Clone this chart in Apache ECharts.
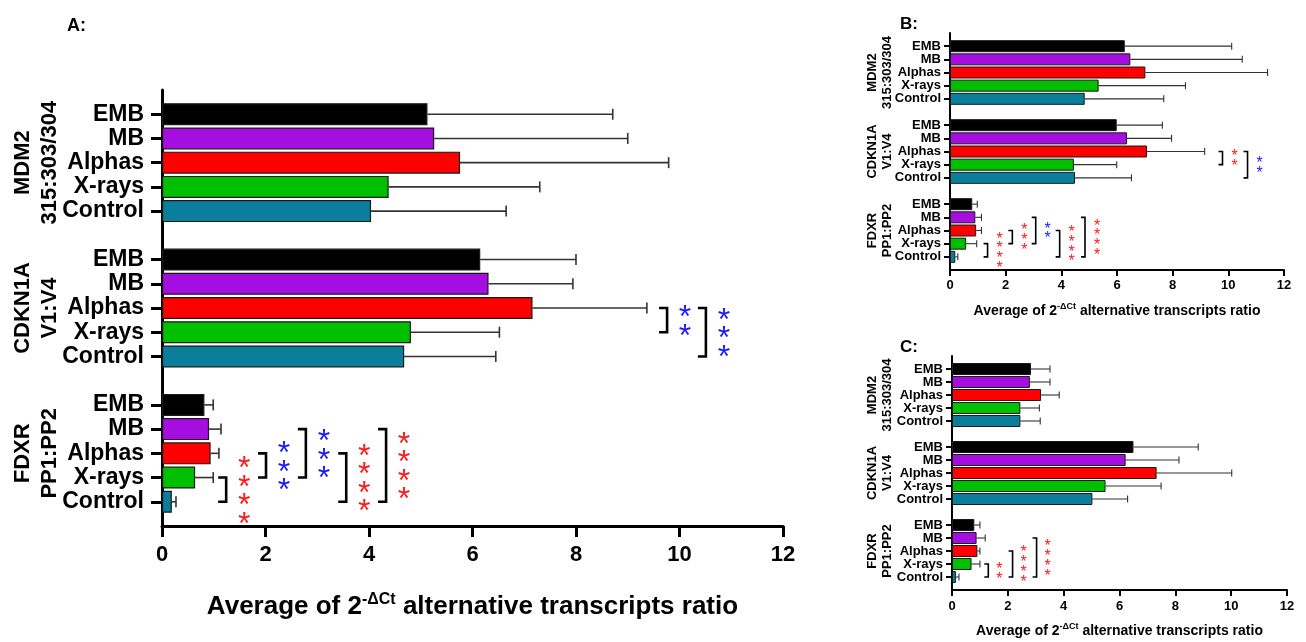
<!DOCTYPE html>
<html>
<head>
<meta charset="utf-8">
<script src="https://cdn.jsdelivr.net/npm/echarts@6/dist/echarts.min.js"></script>
<style>
html, body { margin: 0; padding: 0; background: #fff; }
#chart { width: 1306px; height: 642px; }
</style>
</head>
<body>
<div id="chart"></div>
<script>
var treatments = ['EMB', 'MB', 'Alphas', 'X-rays', 'Control'];
var genes = ['MDM2', 'CDKN1A', 'FDXR'];
var geneNames = ['MDM2\n315:303/304', 'CDKN1A\nV1:V4', 'FDXR\nPP1:PP2'];
var xTicks = [0, 2, 4, 6, 8, 10, 12];
var xTitle = '{n|Average of 2}{s|-ΔCt}{n| alternative transcripts ratio}';

// panel A : mean and SD per treatment
var meanA_MDM2 = [5.13, 5.26, 5.76, 4.38, 4.04];
var sdA_MDM2 = [3.58, 3.74, 4.03, 2.92, 2.61];
var meanA_CDKN1A = [6.15, 6.31, 7.16, 4.81, 4.68];
var sdA_CDKN1A = [1.85, 1.63, 2.21, 1.71, 1.77];
var meanA_FDXR = [0.82, 0.91, 0.94, 0.64, 0.19];
var sdA_FDXR = [0.17, 0.23, 0.16, 0.35, 0.08];

// panel B
var meanB_MDM2 = [6.28, 6.48, 7.02, 5.34, 4.84];
var sdB_MDM2 = [3.84, 4.02, 4.39, 3.12, 2.84];
var meanB_CDKN1A = [5.99, 6.36, 7.08, 4.45, 4.49];
var sdB_CDKN1A = [1.64, 1.60, 2.07, 1.54, 2.03];
var meanB_FDXR = [0.80, 0.91, 0.94, 0.58, 0.19];
var sdB_FDXR = [0.18, 0.22, 0.19, 0.38, 0.09];

// panel C
var meanC_MDM2 = [2.83, 2.79, 3.19, 2.45, 2.45];
var sdC_MDM2 = [0.68, 0.72, 0.65, 0.68, 0.71];
var meanC_CDKN1A = [6.50, 6.22, 7.33, 5.50, 5.03];
var sdC_CDKN1A = [2.32, 1.91, 2.69, 1.99, 1.26];
var meanC_FDXR = [0.80, 0.88, 0.91, 0.70, 0.14];
var sdC_FDXR = [0.20, 0.31, 0.09, 0.30, 0.11];

// significance brackets: gene, from, to, bracket x, number of stars, colour
var sigA = [
  ['CDKN1A', 'Alphas', 'X-rays', 9.76, 2, 'blue'],
  ['CDKN1A', 'Alphas', 'Control', 10.51, 3, 'blue'],
  ['FDXR', 'X-rays', 'Control', 1.24, 4, 'red'],
  ['FDXR', 'Alphas', 'X-rays', 2.01, 3, 'blue'],
  ['FDXR', 'MB', 'X-rays', 2.78, 3, 'blue'],
  ['FDXR', 'Alphas', 'Control', 3.56, 4, 'red'],
  ['FDXR', 'MB', 'Control', 4.33, 4, 'red']
];
var sigB = [
  ['CDKN1A', 'Alphas', 'X-rays', 9.79, 2, 'red'],
  ['CDKN1A', 'Alphas', 'Control', 10.69, 2, 'blue'],
  ['FDXR', 'X-rays', 'Control', 1.35, 4, 'red'],
  ['FDXR', 'Alphas', 'X-rays', 2.24, 3, 'red'],
  ['FDXR', 'MB', 'X-rays', 3.08, 2, 'blue'],
  ['FDXR', 'Alphas', 'Control', 3.94, 4, 'red'],
  ['FDXR', 'MB', 'Control', 4.85, 4, 'red']
];
var sigC = [
  ['FDXR', 'X-rays', 'Control', 1.30, 2, 'red'],
  ['FDXR', 'Alphas', 'Control', 2.17, 4, 'red'],
  ['FDXR', 'MB', 'Control', 3.03, 4, 'red']
];

var barColors = ['#000000', '#a40ee0', '#ff0000', '#00c000', '#0a7e9a'];
var starColors = { red: '#ff1a1a', blue: '#1a1aff' };
var FONT = '"Liberation Sans", Arial, sans-serif';

// category slots: empty slot at top, between groups and at bottom
var cats = ['top'];
genes.forEach(function (g, gi) {
  treatments.forEach(function (t) { cats.push(g + '|' + t); });
  cats.push(gi < genes.length - 1 ? 'gap' + gi : 'bottom');
});
function catIndex(gene, treat) {
  return cats.indexOf(gene + '|' + treat);
}

var panels = [
  { name: 'A:', means: [meanA_MDM2, meanA_CDKN1A, meanA_FDXR], sds: [sdA_MDM2, sdA_CDKN1A, sdA_FDXR], sig: sigA,
    grid: { left: 162, top: 90, width: 621, height: 436 }, titleLeft: 62, titleTop: 12, titleSize: 18,
    geneX: 36, geneSize: 22, geneLH: 27, catSize: 23, tickSize: 22, nameSize: 26, supSize: 16, nameGap: 66,
    labelMargin: 18, xLabelMargin: 18, axisW: 3, tickLen: 11, barW: 22, barBorder: 1.2, errW: 1.6, cap: 5.5,
    brW: 2.6, arm: 8, starSize: 32, starGap: 18.5, starDx: 18 },
  { name: 'B:', means: [meanB_MDM2, meanB_CDKN1A, meanB_FDXR], sds: [sdB_MDM2, sdB_CDKN1A, sdB_FDXR], sig: sigB,
    grid: { left: 950, top: 33, width: 334, height: 237 }, titleLeft: 895, titleTop: 11, titleSize: 17,
    geneX: 880, geneSize: 13, geneLH: 15, catSize: 13, tickSize: 13, nameSize: 14, supSize: 9, nameGap: 32,
    labelMargin: 9, xLabelMargin: 9, axisW: 2, tickLen: 6, barW: 12, barBorder: 1, errW: 1.1, cap: 3.5,
    brW: 1.6, arm: 4, starSize: 16, starGap: 9.7, starDx: 12 },
  { name: 'C:', means: [meanC_MDM2, meanC_CDKN1A, meanC_FDXR], sds: [sdC_MDM2, sdC_CDKN1A, sdC_FDXR], sig: sigC,
    grid: { left: 952, top: 356, width: 335, height: 234 }, titleLeft: 895, titleTop: 334, titleSize: 17,
    geneX: 880, geneSize: 13, geneLH: 15, catSize: 13, tickSize: 13, nameSize: 14, supSize: 9, nameGap: 32,
    labelMargin: 9, xLabelMargin: 10, axisW: 2, tickLen: 6, barW: 12, barBorder: 1, errW: 1.1, cap: 3.5,
    brW: 1.6, arm: 4, starSize: 16, starGap: 10, starDx: 11 }
];

var option = {
  animation: false,
  backgroundColor: '#fff',
  title: [],
  grid: [],
  xAxis: [],
  yAxis: [],
  series: []
};

panels.forEach(function (p, pi) {
  option.title.push({
    text: p.name, left: p.titleLeft, top: p.titleTop,
    textStyle: { fontFamily: FONT, fontSize: p.titleSize, fontWeight: 'bold', color: '#000' }
  });
  option.grid.push({ left: p.grid.left, top: p.grid.top, width: p.grid.width, height: p.grid.height, containLabel: false });
  option.xAxis.push({
    gridIndex: pi, type: 'value',
    min: xTicks[0], max: xTicks[xTicks.length - 1], interval: xTicks[1] - xTicks[0],
    axisLine: { show: true, lineStyle: { color: '#000', width: p.axisW } },
    axisTick: { show: true, length: p.tickLen, lineStyle: { color: '#000', width: p.axisW } },
    splitLine: { show: false },
    axisLabel: { color: '#000', fontFamily: FONT, fontWeight: 'bold', fontSize: p.tickSize, margin: p.xLabelMargin },
    name: xTitle, nameLocation: 'middle', nameGap: p.nameGap,
    nameTextStyle: {
      rich: {
        n: { fontFamily: FONT, fontWeight: 'bold', fontSize: p.nameSize, color: '#000', lineHeight: p.nameSize + 4 },
        s: { fontFamily: FONT, fontWeight: 'bold', fontSize: p.supSize, color: '#000', lineHeight: p.supSize, verticalAlign: 'top' }
      }
    }
  });
  option.yAxis.push({
    gridIndex: pi, type: 'category', data: cats, inverse: true, boundaryGap: false,
    axisLine: { show: true, lineStyle: { color: '#000', width: p.axisW } },
    axisTick: {
      show: true, length: p.tickLen, lineStyle: { color: '#000', width: p.axisW },
      interval: function (idx, val) { return val.indexOf('|') >= 0; }
    },
    axisLabel: {
      interval: 0, margin: p.labelMargin, color: '#000', fontFamily: FONT, fontWeight: 'bold', fontSize: p.catSize,
      formatter: function (v) { return v.indexOf('|') >= 0 ? v.split('|')[1] : ''; }
    },
    splitLine: { show: false }
  });

  var barData = cats.map(function () { return '-'; });
  var errData = [];
  genes.forEach(function (g, gi) {
    treatments.forEach(function (t, ti) {
      var idx = catIndex(g, t);
      var m = p.means[gi][ti];
      barData[idx] = { value: m, itemStyle: { color: barColors[ti] } };
      errData.push([idx, m, m + p.sds[gi][ti]]);
    });
  });

  option.series.push({
    type: 'bar', xAxisIndex: pi, yAxisIndex: pi, data: barData, barWidth: p.barW, silent: true,
    itemStyle: { borderColor: '#1a1a1a', borderWidth: p.barBorder }
  });

  option.series.push({
    type: 'custom', xAxisIndex: pi, yAxisIndex: pi, data: errData, silent: true,
    encode: { y: 0, x: [1, 2] },
    renderItem: function (params, api) {
      var c = api.value(0);
      var a = api.coord([api.value(1), c]);
      var b = api.coord([api.value(2), c]);
      var st = { stroke: '#333', lineWidth: p.errW };
      return {
        type: 'group', children: [
          { type: 'line', shape: { x1: a[0], y1: a[1], x2: b[0], y2: b[1] }, style: st },
          { type: 'line', shape: { x1: b[0], y1: b[1] - p.cap, x2: b[0], y2: b[1] + p.cap }, style: st }
        ]
      };
    }
  });

  var sigData = p.sig.map(function (s) {
    return [s[3], catIndex(s[0], s[1]), catIndex(s[0], s[2]), s[4], s[5] === 'blue' ? 1 : 0];
  });
  option.series.push({
    type: 'custom', xAxisIndex: pi, yAxisIndex: pi, data: sigData, silent: true,
    encode: { x: 0, y: [1, 2] },
    renderItem: function (params, api) {
      var x = api.value(0);
      var a = api.coord([x, api.value(1)]);
      var b = api.coord([x, api.value(2)]);
      var n = api.value(3);
      var col = api.value(4) === 1 ? starColors.blue : starColors.red;
      var kids = [{
        type: 'polyline',
        shape: { points: [[a[0] - p.arm, a[1]], [a[0], a[1]], [b[0], b[1]], [b[0] - p.arm, b[1]]] },
        style: { stroke: '#000', lineWidth: p.brW, fill: null }
      }];
      var mid = (a[1] + b[1]) / 2;
      for (var i = 0; i < n; i++) {
        kids.push({
          type: 'text',
          x: a[0] + p.starDx,
          y: mid + (i - (n - 1) / 2) * p.starGap + p.starSize * 0.23,
          style: {
            text: '*', fill: col, fontFamily: FONT, fontWeight: 'normal', fontSize: p.starSize,
            align: 'center', verticalAlign: 'middle'
          }
        });
      }
      return { type: 'group', children: kids };
    }
  });
});

var chart = echarts.init(document.getElementById('chart'));
chart.setOption(option);

// rotated gene labels, centred on the middle treatment of each group
var geneLabels = [];
panels.forEach(function (p, pi) {
  genes.forEach(function (g, gi) {
    var py = chart.convertToPixel({ yAxisIndex: pi }, catIndex(g, 'Alphas'));
    geneLabels.push({
      type: 'text', x: p.geneX, y: py, rotation: Math.PI / 2, silent: true,
      style: {
        text: geneNames[gi], fill: '#000', fontFamily: FONT, fontWeight: 'bold', fontSize: p.geneSize,
        lineHeight: p.geneLH, align: 'center', verticalAlign: 'middle'
      }
    });
  });
});
chart.setOption({ graphic: geneLabels });
</script>
</body>
</html>
